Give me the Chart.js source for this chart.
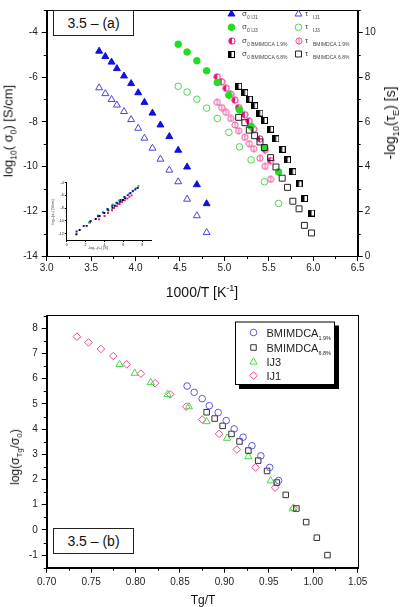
<!DOCTYPE html>
<html lang="en">
<head>
  <meta charset="UTF-8" />
  <title>3.5 (a) / (b)</title>
  <script src="https://cdn.jsdelivr.net/npm/chart.js"></script>
  <style>
    html, body { margin: 0; padding: 0; background: #fff; }
    body { width: 401px; height: 607px; overflow: hidden; position: relative;
           font-family: "Liberation Sans", Arial, sans-serif; color: #111; }
    .panel { position: absolute; left: 0; width: 401px; }
    .panel canvas { position: absolute; }
    .tag { position: absolute; width: 79px; height: 24px; border: 1px solid #222;
           font-size: 14px; line-height: 24px; text-align: center; background: #fff; }
    .ttl { position: absolute; white-space: nowrap; line-height: 1; }
    .rot { transform: translate(-50%, -50%) rotate(-90deg); }
    .hor { transform: translate(-50%, -50%); }
    .ttl sub, .ttl sup { font-size: 65%; line-height: 0; }
  </style>
</head>
<body>

<div class="panel" id="panelA" style="top:0;height:300px">
  <canvas id="chartA" width="401" height="300" style="left:0;top:0"></canvas>
  <canvas id="insetA" width="112" height="76" style="left:46px;top:176px"></canvas>
  <div class="tag" style="left:53px;top:10px">3.5 – (a)</div>
  <div class="ttl hor" style="left:202px;top:292px;font-size:14px">1000/T [K<sup>-1</sup>]</div>
  <div class="ttl rot" style="left:8px;top:131px;font-size:13px">log<sub>10</sub>( σ<sub>0</sub>) [S/cm]</div>
  <div class="ttl rot" style="left:390px;top:123px;font-size:14px">-log<sub>10</sub>(τ<sub>E</sub>) [s]</div>
</div>

<div class="panel" id="panelB" style="top:300px;height:307px">
  <canvas id="chartB" width="401" height="307" style="left:0;top:0"></canvas>
  <div class="tag" style="left:53px;top:228px">3.5 – (b)</div>
  <div class="ttl hor" style="left:203px;top:300px;font-size:12px">Tg/T</div>
  <div class="ttl rot" style="left:15px;top:157px;font-size:12px">log(σ<sub>Tg</sub>/σ<sub>0</sub>)</div>
</div>

<script>
// ---------- panel (a): log10(sigma0) and -log10(tau) vs 1000/T ----------
const invT_IJ1  = [3.59, 3.66, 3.73, 3.79, 3.87, 3.95, 4.03, 4.10, 4.19, 4.28, 4.38, 4.48, 4.58, 4.69, 4.80];
const sigma_IJ1 = [-4.84, -5.08, -5.33, -5.62, -5.95, -6.29, -6.70, -7.13, -7.61, -8.14, -8.66, -9.27, -10.02, -10.81, -11.66];
const tau_IJ1   = [7.52, 7.26, 7.00, 6.75, 6.46, 6.10, 5.71, 5.27, 4.82, 4.33, 3.84, 3.32, 2.54, 1.80, 1.05];

const invT_IJ3  = [4.48, 4.58, 4.69, 4.80, 4.92, 5.05, 5.17, 5.30, 5.45, 5.61];
const sigma_IJ3 = [-4.53, -4.88, -5.27, -5.72, -6.24, -6.81, -7.47, -8.20, -9.15, -10.24];
const tau_IJ3   = [7.59, 7.33, 7.01, 6.61, 6.15, 5.53, 4.88, 4.30, 3.32, 2.35];

const invT_B19  = [4.92, 4.97, 5.02, 5.07, 5.12, 5.16, 5.23, 5.28, 5.33, 5.40, 5.46, 5.52];
const sigma_B19 = [-5.99, -6.21, -6.50, -6.77, -7.03, -7.36, -7.68, -7.97, -8.33, -8.76, -9.24, -9.73];
const tau_B19   = [6.87, 6.64, 6.42, 6.15, 5.86, 5.60, 5.31, 5.02, 4.80, 4.37, 4.01, 3.43];

const invT_B68  = [5.16, 5.23, 5.28, 5.34, 5.40, 5.45, 5.52, 5.58, 5.65, 5.71, 5.77, 5.84, 5.90, 5.98];
const sigma_B68 = [-6.41, -6.70, -6.99, -7.28, -7.61, -7.94, -8.33, -8.76, -9.23, -9.70, -10.23, -10.78, -11.43, -12.08];
const tau_B68   = [6.20, 5.96, 5.63, 5.38, 5.10, 4.85, 4.40, 3.98, 3.48, 3.07, 2.45, 2.11, 1.37, 1.03];

const ticksA_x     = [3.0, 3.5, 4.0, 4.5, 5.0, 5.5, 6.0, 6.5];
const ticksA_sigma = [-14, -12, -10, -8, -6, -4];
const ticksA_tau   = [0, 2, 4, 6, 8, 10];
const ticksInset_x = [0, 2, 4, 6, 8];
const ticksInset_y = [-12, -10, -8, -6, -4];

// ---------- panel (b): log(sigma_Tg/sigma0) vs Tg/T ----------
const tgT_B19  = [0.858, 0.866, 0.875, 0.883, 0.893, 0.902, 0.911, 0.921, 0.931, 0.941, 0.951, 0.961];
const logR_B19 = [5.71, 5.46, 5.21, 4.93, 4.66, 4.34, 4.01, 3.68, 3.34, 2.94, 2.48, 1.96];
const tgT_B68  = [0.880, 0.889, 0.898, 0.908, 0.917, 0.927, 0.938, 0.948, 0.959, 0.969, 0.981, 0.992, 1.004, 1.016];
const logR_B68 = [4.67, 4.42, 4.13, 3.81, 3.51, 3.15, 2.75, 2.34, 1.88, 1.39, 0.85, 0.31, -0.31, -1.00];
const tgT_IJ3  = [0.782, 0.799, 0.817, 0.836, 0.860, 0.880, 0.903, 0.927, 0.952, 0.977];
const logR_IJ3 = [6.57, 6.22, 5.85, 5.38, 4.89, 4.30, 3.64, 2.91, 1.95, 0.84];
const tgT_IJ1  = [0.734, 0.747, 0.761, 0.775, 0.790, 0.806, 0.822, 0.839, 0.857, 0.875, 0.894, 0.914, 0.935, 0.957, 0.978];
const logR_IJ1 = [7.67, 7.44, 7.18, 6.90, 6.57, 6.20, 5.82, 5.38, 4.89, 4.38, 3.81, 3.19, 2.48, 1.68, 0.86];

const ticksB_x = [0.70, 0.75, 0.80, 0.85, 0.90, 0.95, 1.00, 1.05];
const ticksB_y = [-1, 0, 1, 2, 3, 4, 5, 6, 7, 8];

const FONT = '"Liberation Sans", Arial, sans-serif';
const pts = (xs, ys) => xs.map((x, i) => ({ x: x, y: ys[i] }));

// little marker bitmaps for the half filled / crossed symbols
function halfCircle(col) {
  const c = document.createElement('canvas'); c.width = c.height = 8;
  const g = c.getContext('2d');
  g.fillStyle = '#fff'; g.beginPath(); g.arc(4, 4, 3.3, 0, 2 * Math.PI); g.fill();
  g.fillStyle = col; g.beginPath(); g.arc(4, 4, 3.3, Math.PI / 2, 3 * Math.PI / 2); g.fill();
  g.strokeStyle = col; g.lineWidth = 1; g.beginPath(); g.arc(4, 4, 3.1, 0, 2 * Math.PI); g.stroke();
  return c;
}
function barCircle(col) {
  const c = document.createElement('canvas'); c.width = c.height = 8;
  const g = c.getContext('2d');
  g.strokeStyle = col; g.lineWidth = 1;
  g.beginPath(); g.arc(4, 4, 3.1, 0, 2 * Math.PI); g.stroke();
  g.beginPath(); g.moveTo(4, 1); g.lineTo(4, 7); g.stroke();
  return c;
}
function halfSquare(col) {
  const c = document.createElement('canvas'); c.width = c.height = 7;
  const g = c.getContext('2d');
  g.fillStyle = '#fff'; g.fillRect(0, 0, 7, 7);
  g.fillStyle = col; g.fillRect(0, 0, 3.5, 7);
  g.strokeStyle = col; g.lineWidth = 1; g.strokeRect(0.5, 0.5, 6, 6);
  return c;
}

const NONE = 'rgba(0,0,0,0)';
const mk = {
  sIJ1: { style: 'triangle', r: 4, fill: '#1010e0', stroke: '#1010e0' },
  tIJ1: { style: 'triangle', r: 4, fill: NONE, stroke: '#4646d4' },
  sIJ3: { style: 'circle', r: 3.3, fill: '#1fdf1f', stroke: '#1fdf1f' },
  tIJ3: { style: 'circle', r: 3.3, fill: NONE, stroke: '#44dd44' },
  sB19: { img: halfCircle('#e8157a') },
  tB19: { img: barCircle('#ee4d99') },
  sB68: { img: halfSquare('#000') },
  tB68: { style: 'rect', r: 4.2, fill: NONE, stroke: '#222' },
  bB19: { style: 'circle', r: 3.3, fill: NONE, stroke: '#5a5ae0' },
  bB68: { style: 'rect', r: 3.9, fill: NONE, stroke: '#333' },
  bIJ3: { style: 'triangle', r: 4.2, fill: NONE, stroke: '#44dd44' },
  bIJ1: { style: 'rectRot', r: 3.8, fill: NONE, stroke: '#ee4499' }
};

function ds(m, data, yAxisID) {
  return {
    data: data, yAxisID: yAxisID || 'y',
    pointStyle: m.img || m.style, pointRadius: m.img ? 3 : m.r,
    backgroundColor: m.fill || NONE, borderColor: m.stroke || NONE,
    pointBorderWidth: 1, showLine: false
  };
}

function drawMarker(ctx, m, x, y) {
  if (m.img) { ctx.drawImage(m.img, Math.round(x - m.img.width / 2), Math.round(y - m.img.height / 2)); return; }
  const r = m.r;
  ctx.save();
  ctx.fillStyle = m.fill; ctx.strokeStyle = m.stroke; ctx.lineWidth = 1;
  ctx.beginPath();
  if (m.style === 'circle') ctx.arc(x, y, r, 0, 2 * Math.PI);
  else if (m.style === 'triangle') { ctx.moveTo(x, y - r); ctx.lineTo(x + r * 0.866, y + r / 2); ctx.lineTo(x - r * 0.866, y + r / 2); ctx.closePath(); }
  else if (m.style === 'rect') { const h = r * Math.SQRT1_2; ctx.rect(x - h, y - h, 2 * h, 2 * h); }
  else if (m.style === 'rectRot') { ctx.moveTo(x, y - r); ctx.lineTo(x + r, y); ctx.lineTo(x, y + r); ctx.lineTo(x - r, y); ctx.closePath(); }
  ctx.fill(); ctx.stroke();
  ctx.restore();
}

function axis(opts) {
  const s = {
    type: 'linear', position: opts.pos, min: opts.min, max: opts.max,
    afterBuildTicks: sc => { sc.ticks = opts.ticks.map(v => ({ value: v })); },
    ticks: { font: { family: FONT, size: opts.fs || 10 }, color: '#222', padding: opts.pad,
             callback: opts.fmt || (v => String(v)), autoSkip: false, maxRotation: 0 },
    grid: { drawOnChartArea: false, drawTicks: true, tickLength: opts.tl || 5, color: '#000' },
    border: { display: true, color: '#000', width: 1 }
  };
  if (opts.w !== undefined) s.afterFit = sc => { sc.width = opts.w; };
  if (opts.h !== undefined) s.afterFit = sc => { sc.height = opts.h; };
  return s;
}

// frame round the plot + half step minor ticks
const frame = {
  id: 'frame',
  afterDraw(chart, args, o) {
    const ctx = chart.ctx, a = chart.chartArea;
    ctx.save();
    ctx.strokeStyle = '#000'; ctx.lineWidth = 1;
    if (o.box) ctx.strokeRect(Math.round(a.left) + 0.5, Math.round(a.top) + 0.5, Math.round(a.right - a.left), Math.round(a.bottom - a.top));
    (o.minor || []).forEach(([id, majors]) => {
      const sc = chart.scales[id];
      const step = majors[1] - majors[0];
      const vals = [];
      for (let i = -1; i < majors.length; i++) vals.push(majors[0] + (i + 0.5) * step);
      vals.forEach(v => {
        if (v < sc.min || v > sc.max) return;
        const p = Math.round(sc.getPixelForValue(v)) + 0.5;
        const L = o.minorLen || 3;
        ctx.beginPath();
        if (sc.isHorizontal()) { ctx.moveTo(p, sc.top); ctx.lineTo(p, sc.top + L); }
        else if (sc.position === 'left') { ctx.moveTo(sc.right, p); ctx.lineTo(sc.right - L, p); }
        else { ctx.moveTo(sc.left, p); ctx.lineTo(sc.left + L, p); }
        ctx.stroke();
      });
    });
    ctx.restore();
  }
};

// legend of panel (a): symbol, big greek letter, small subscript
const legendA = {
  id: 'legendA',
  afterDraw(chart) {
    const ctx = chart.ctx;
    const rows = [14, 27.3, 40.7, 54];
    const col1 = [[mk.sIJ1, '0 IJ1'], [mk.sIJ3, '0 IJ3'], [mk.sB19, '0 BMIMDCA 1.9%'], [mk.sB68, '0 BMIMDCA 6.8%']];
    const col2 = [[mk.tIJ1, 'IJ1'], [mk.tIJ3, 'IJ3'], [mk.tB19, 'BMIMDCA 1.9%'], [mk.tB68, 'BMIMDCA 6.8%']];
    ctx.save();
    ctx.fillStyle = '#444'; ctx.textBaseline = 'alphabetic';
    rows.forEach((y, i) => {
      drawMarker(ctx, col1[i][0], 231.5, y);
      ctx.font = '8px ' + FONT; ctx.fillStyle = '#444';
      ctx.fillText('σ', 242, y + 2);
      ctx.font = '5px ' + FONT;
      ctx.fillText(col1[i][1], 247, y + 5);
      drawMarker(ctx, col2[i][0], 298.5, y);
      ctx.font = '8px ' + FONT; ctx.fillStyle = '#444';
      ctx.fillText('τ', 305, y + 2);
      ctx.font = '5px ' + FONT;
      ctx.fillText(col2[i][1], 313, y + 5);
    });
    ctx.restore();
  }
};

// legend of panel (b): box with a hard black shadow
const legendB = {
  id: 'legendB',
  afterDraw(chart) {
    const ctx = chart.ctx;
    const x0 = 235, y0 = 21.5, w = 100, h = 63.5;
    ctx.save();
    ctx.fillStyle = '#000'; ctx.fillRect(x0 + 4, y0 + 4, w, h);
    ctx.fillStyle = '#fff'; ctx.fillRect(x0, y0, w, h);
    ctx.strokeStyle = '#000'; ctx.lineWidth = 1; ctx.strokeRect(x0 + 0.5, y0 + 0.5, w - 1, h - 1);
    const items = [[mk.bB19, 'BMIMDCA', '1.9%', 32.5], [mk.bB68, 'BMIMDCA', '6.8%', 47.5],
                   [mk.bIJ3, 'IJ3', '', 62], [mk.bIJ1, 'IJ1', '', 75.5]];
    items.forEach(([m, t, s, y]) => {
      drawMarker(ctx, m, 253.5, y);
      ctx.fillStyle = '#222'; ctx.font = '11px ' + FONT;
      ctx.fillText(t, 266.5, y + 4);
      if (s) {
        const tw = ctx.measureText(t).width;
        ctx.font = '5.5px ' + FONT;
        ctx.fillText(s, 266.5 + tw, y + 7);
      }
    });
    ctx.restore();
  }
};

// ---------- chart (a) ----------
new Chart(document.getElementById('chartA'), {
  type: 'scatter',
  data: {
    datasets: [
      ds(mk.tIJ1, pts(invT_IJ1, tau_IJ1), 'y2'),
      ds(mk.tIJ3, pts(invT_IJ3, tau_IJ3), 'y2'),
      ds(mk.tB19, pts(invT_B19, tau_B19), 'y2'),
      ds(mk.tB68, pts(invT_B68, tau_B68), 'y2'),
      ds(mk.sIJ1, pts(invT_IJ1, sigma_IJ1)),
      ds(mk.sIJ3, pts(invT_IJ3, sigma_IJ3)),
      ds(mk.sB19, pts(invT_B19, sigma_B19)),
      ds(mk.sB68, pts(invT_B68, sigma_B68))
    ]
  },
  options: {
    responsive: false, animation: false, events: [],
    layout: { padding: { top: 2, left: 0, right: 0, bottom: 0 } },
    plugins: {
      legend: { display: false }, tooltip: { enabled: false },
      frame: { box: true, minor: [['x', ticksA_x], ['y', ticksA_sigma], ['y2', ticksA_tau]] }
    },
    scales: {
      x:  axis({ pos: 'bottom', min: 3, max: 6.5, ticks: ticksA_x, fmt: v => v.toFixed(1), pad: 1, h: 44 }),
      y:  axis({ pos: 'left', min: -14, max: -3, ticks: ticksA_sigma, pad: 4, w: 46.7 }),
      y2: axis({ pos: 'right', min: 0, max: 11, ticks: ticksA_tau, pad: 2, w: 43.3 })
    }
  },
  plugins: [frame, legendA]
});

// ---------- inset of (a): log sigma0 against -log tau ----------
const insetTitles = {
  id: 'insetTitles',
  afterDraw(chart) {
    const ctx = chart.ctx;
    ctx.save();
    ctx.fillStyle = '#333'; ctx.font = '3.6px ' + FONT; ctx.textAlign = 'center';
    ctx.fillText('-log₁₀(τ₀) [S]', 52, 73);
    ctx.translate(7.5, 36); ctx.rotate(-Math.PI / 2);
    ctx.fillText('log₁₀(σ₀) [S/cm]', 0, 0);
    ctx.restore();
  }
};
const insetScale = (o) => {
  const s = axis(o);
  s.ticks.font.size = 3.6; s.ticks.padding = 1;
  s.grid.tickLength = 2;
  return s;
};
new Chart(document.getElementById('insetA'), {
  type: 'scatter',
  data: {
    datasets: [
      [tau_IJ1, sigma_IJ1, '#1010e0'], [tau_IJ3, sigma_IJ3, '#1fcf1f'],
      [tau_B19, sigma_B19, '#e8157a'], [tau_B68, sigma_B68, '#000']
    ].map(([t, s, c]) => ({ data: pts(t, s), pointStyle: 'rect', pointRadius: 1.4,
                            backgroundColor: c, borderColor: c, pointBorderWidth: 0 }))
  },
  options: {
    responsive: false, animation: false, events: [],
    layout: { padding: { top: 6.7, left: 0, right: 6.3, bottom: 0 } },
    plugins: { legend: { display: false }, tooltip: { enabled: false } },
    scales: {
      x: insetScale({ pos: 'bottom', min: 0, max: 9, ticks: ticksInset_x, h: 12 }),
      y: insetScale({ pos: 'left', min: -13, max: -4, ticks: ticksInset_y, w: 20.7 })
    }
  },
  plugins: [insetTitles]
});

// ---------- chart (b) ----------
new Chart(document.getElementById('chartB'), {
  type: 'scatter',
  data: {
    datasets: [
      ds(mk.bB19, pts(tgT_B19, logR_B19)),
      ds(mk.bB68, pts(tgT_B68, logR_B68)),
      ds(mk.bIJ3, pts(tgT_IJ3, logR_IJ3)),
      ds(mk.bIJ1, pts(tgT_IJ1, logR_IJ1))
    ]
  },
  options: {
    responsive: false, animation: false, events: [],
    layout: { padding: { top: 15, left: 0, right: 43.3, bottom: 0 } },
    plugins: {
      legend: { display: false }, tooltip: { enabled: false },
      frame: { box: true, minor: [['x', ticksB_x], ['y', ticksB_y]] }
    },
    scales: {
      x: axis({ pos: 'bottom', min: 0.70, max: 1.05, ticks: ticksB_x, fmt: v => v.toFixed(2), pad: 4, h: 39.3 }),
      y: axis({ pos: 'left', min: -1.5, max: 8.53, ticks: ticksB_y, pad: 4, w: 46.7 })
    }
  },
  plugins: [frame, legendB]
});
</script>
</body>
</html>
